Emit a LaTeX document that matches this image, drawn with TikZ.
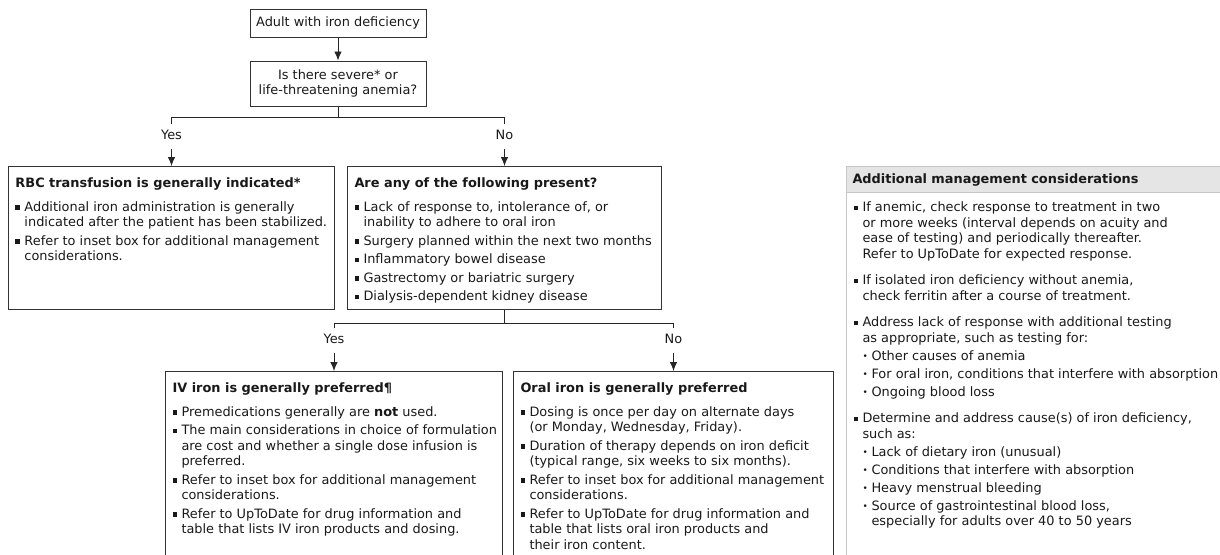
\documentclass[tikz,border=0pt]{standalone}
\usepackage{fontspec}
\setmainfont{DejaVu Sans}
\usetikzlibrary{arrows.meta,positioning,calc}

% list helpers for the boxes
\newcommand{\sqb}{\rule[1.6pt]{4.6pt}{4.6pt}}
\newcommand{\dotb}{\raisebox{0.4pt}{\fontsize{9}{9}\selectfont •}}
\newcommand{\ttl}[1]{\noindent\textbf{#1}\par\vspace{5.5pt}}
\newcommand{\itm}[1]{\par\noindent\makebox[9pt][l]{\sqb}\begin{tabular}[t]{@{}l@{}}#1\end{tabular}\par}
\newcommand{\subitm}[1]{\par\noindent\hspace*{9pt}\makebox[9pt][l]{\dotb}\begin{tabular}[t]{@{}l@{}}#1\end{tabular}\par}
\newcommand{\panel}[3]{\parbox[c][#2pt][t]{#1pt}{\fontsize{12.9}{15.5}\selectfont
  \setlength{\parskip}{3pt}\setlength{\lineskip}{0pt}\vspace*{8pt}#3}}

\begin{document}
\begin{tikzpicture}[x=1pt, y=-1pt,
    every node/.style={font=\fontsize{12.9}{15.5}\selectfont, text=black!90},
    box/.style={draw=black!80, line width=1pt, inner sep=0pt},
    panelbox/.style={box, anchor=north west, inner xsep=7pt, inner ysep=0pt},
    lbl/.style={inner xsep=2pt, inner ysep=6.25pt, text height=9.5pt, text depth=3pt},
    link/.style={draw=black!85, line width=0.9pt},
    arr/.style={link, -{Latex[length=9pt,width=7.5pt]}}]
  \useasboundingbox (0,0) rectangle (1220,554);
  \clip (0,0) rectangle (1220,554);

  % top of the tree
  \node[box, minimum width=176pt, minimum height=28pt] (start) at (338,23) {Adult with iron deficiency};
  \node[box, minimum width=176pt, minimum height=45pt, align=center] (severe) at (338,83.5)
    {Is there severe* or\\life-threatening anemia?};

  % first split
  \node[panelbox] (rbc) at (8,166) {\panel{312}{143}{%
    \ttl{RBC transfusion is generally indicated*}
    \itm{Additional iron administration is generally\\indicated after the patient has been stabilized.}
    \itm{Refer to inset box for additional management\\considerations.}}};
  \node[panelbox] (present) at (347,166) {\panel{300}{143}{%
    \ttl{Are any of the following present?}
    \itm{Lack of response to, intolerance of, or\\inability to adhere to oral iron}
    \itm{Surgery planned within the next two months}
    \itm{Inflammatory bowel disease}
    \itm{Gastrectomy or bariatric surgery}
    \itm{Dialysis-dependent kidney disease}}};

  % second split
  \node[panelbox] (ivbox) at (165,371) {\panel{323}{200}{%
    \ttl{IV iron is generally preferred¶}
    \itm{Premedications generally are \textbf{not} used.}
    \itm{The main considerations in choice of formulation\\are cost and whether a single dose infusion is\\preferred.}
    \itm{Refer to inset box for additional management\\considerations.}
    \itm{Refer to UpToDate for drug information and\\table that lists IV iron products and dosing.}}};
  \node[panelbox] (oralbox) at (513,371) {\panel{306}{200}{%
    \ttl{Oral iron is generally preferred}
    \itm{Dosing is once per day on alternate days\\(or Monday, Wednesday, Friday).}
    \itm{Duration of therapy depends on iron deficit\\(typical range, six weeks to six months).}
    \itm{Refer to inset box for additional management\\considerations.}
    \itm{Refer to UpToDate for drug information and\\table that lists oral iron products and\\their iron content.}}};

  % inset box
  \node[panelbox, draw=gray!45] (addbox) at (846,166) {\panel{380}{405}{%
    \setlength{\parskip}{2.5pt}\vspace*{24pt}
    \itm{If anemic, check response to treatment in two\\or more weeks (interval depends on acuity and\\ease of testing) and periodically thereafter.\\Refer to UpToDate for expected response.}
    \vspace{8.5pt}
    \itm{If isolated iron deficiency without anemia,\\check ferritin after a course of treatment.}
    \vspace{8.5pt}
    \itm{Address lack of response with additional testing\\as appropriate, such as testing for:}
    \subitm{Other causes of anemia}
    \subitm{For oral iron, conditions that interfere with absorption}
    \subitm{Ongoing blood loss}
    \vspace{8.5pt}
    \itm{Determine and address cause(s) of iron deficiency,\\such as:}
    \subitm{Lack of dietary iron (unusual)}
    \subitm{Conditions that interfere with absorption}
    \subitm{Heavy menstrual bleeding}
    \subitm{Source of gastrointestinal blood loss,\\especially for adults over 40 to 50 years}}};
  \node[anchor=north west, draw=gray!45, fill=gray!20, line width=1pt, minimum height=26pt,
    text width=382pt, inner xsep=6pt, font=\fontsize{12.9}{15.5}\selectfont\bfseries] (addhd)
    at (addbox.north west) {Additional management considerations};

  % labels
  \node[lbl, above=17pt of rbc] (yes1) {Yes};
  \node[lbl, above=17pt of present] (no1) {No};
  \node[lbl, above=18pt of ivbox] (yes2) {Yes};
  \node[lbl, above=18pt of oralbox] (no2) {No};

  % connectors
  \coordinate (split1) at ($(severe.south)+(0,11)$);
  \coordinate (split2) at ($(present.south)+(0,13)$);
  \draw[arr] (start) -- (severe);
  \draw[link] (severe.south) -- (split1);
  \draw[link] (yes1.north) -- (yes1.north |- split1) -- (no1.north |- split1) -- (no1.north);
  \draw[arr] (yes1) -- (rbc);
  \draw[arr] (no1) -- (present);
  \draw[link] (present.south) -- (split2);
  \draw[link] (yes2.north) -- (yes2.north |- split2) -- (no2.north |- split2) -- (no2.north);
  \draw[arr] (yes2) -- (ivbox);
  \draw[arr] (no2) -- (oralbox);
\end{tikzpicture}
\end{document}
